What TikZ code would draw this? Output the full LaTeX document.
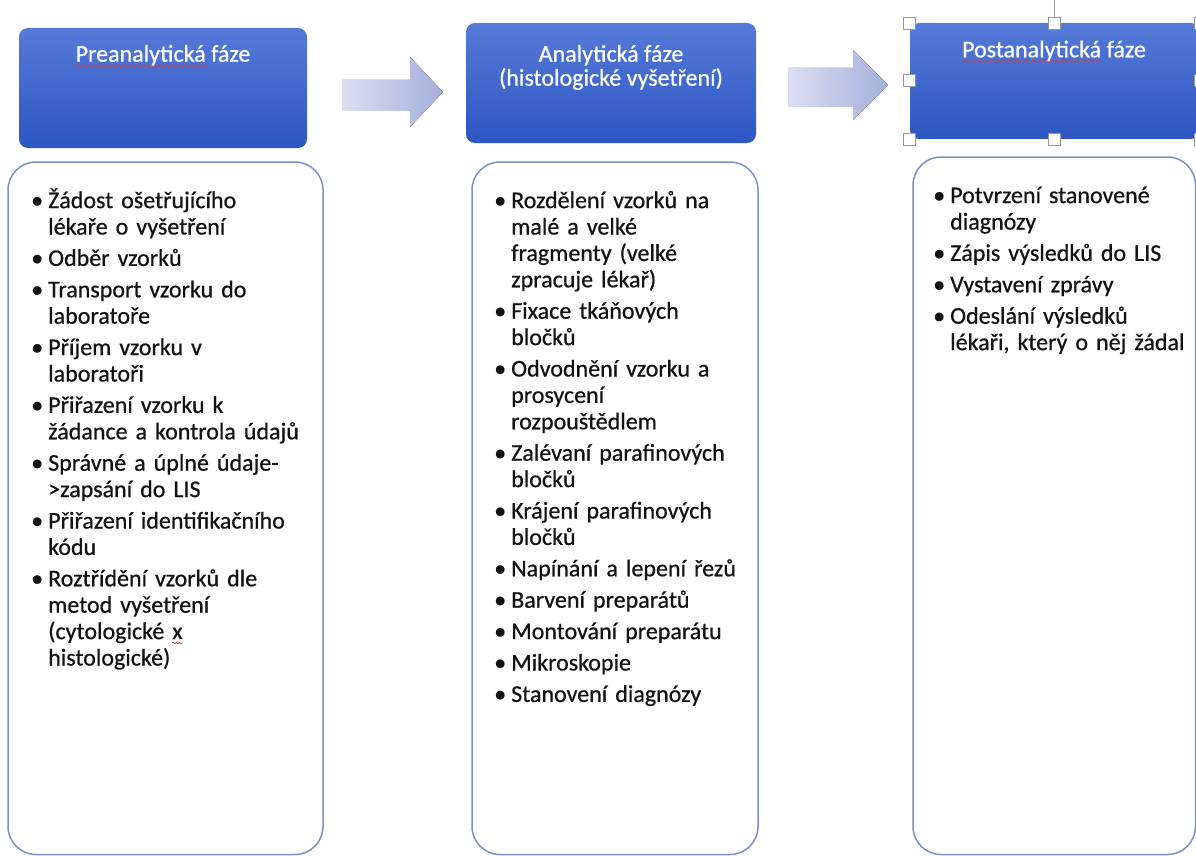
\documentclass[tikz,border=0pt]{standalone}
\usepackage{fontspec}
\setmainfont{Carlito}[FakeBold=0.6]
\usetikzlibrary{decorations.pathmorphing}

\definecolor{hdtop}{RGB}{86,122,216}
\definecolor{hdbot}{RGB}{44,86,194}
\definecolor{arrl}{RGB}{218,223,241}
\definecolor{arrr}{RGB}{164,175,220}
\definecolor{boxline}{RGB}{122,144,200}
\definecolor{txt}{RGB}{18,18,18}
\definecolor{wavered}{RGB}{214,64,64}
\definecolor{handlegray}{RGB}{150,150,150}

% one bullet point with a hanging indent; lines are broken by hand
\newcommand{\ptitem}[1]{\par\hangindent=22pt\hangafter=1\noindent
  \makebox[22pt][c]{•}\rule{0pt}{22pt}#1\par\vspace{5pt}}
% red wavy spell-check underline under a word
\newlength{\spellwd}
\newcommand{\spellwave}[1]{\settowidth{\spellwd}{#1}%
  \rlap{\tikz[overlay, baseline=0pt, x=1pt, y=1pt]
    \draw[wavered, line width=0.7pt, decorate,
      decoration={snake, amplitude=0.8pt, segment length=3pt}]
      (0pt,-4pt) -- (\spellwd,-4pt);}#1}

\begin{document}
\begin{tikzpicture}[x=1pt,y=-1pt,
  header/.style={rectangle, rounded corners=9pt, top color=hdtop,
    bottom color=hdbot, draw=none, inner sep=0pt},
  bodybox/.style={rectangle, rounded corners=28pt, draw=boxline,
    line width=1.5pt, fill=white, inner sep=0pt},
  title/.style={anchor=base, text=white, inner sep=0pt,
    font=\fontsize{24}{25}\selectfont},
  itemlist/.style={anchor=north west, inner sep=0pt, text width=300pt,
    align=left, text=txt, font=\fontsize{24}{26.4}\selectfont},
  blockarrow/.style={left color=arrl, right color=arrr, draw=none},
  handle/.style={rectangle, fill=white, draw=handlegray, line width=0.8pt,
    minimum size=12pt, inner sep=0pt}]

\useasboundingbox (0,0) rectangle (1196,856);
\fill[white] (0,0) rectangle (1196,856);
\clip (0,0) rectangle (1196,856);

% phase headers
\node[header, minimum width=288pt, minimum height=120pt] (h1) at (163,88) {};
\node[header, minimum width=290pt, minimum height=120pt] (h2) at (611,83) {};
\node[header, minimum width=290pt, minimum height=116pt] (h3) at (1055,81) {};

\node[title] (h1t) at (163,61.7) {\spellwave{Preanalytická} fáze};
\node[title] (h2ta) at (611,61.7) {Analytická fáze};
\node[title] (h2tb) at (611,85.7) {(histologické vyšetření)};
\node[title] (h3t) at (1054,57.3) {\spellwave{Postanalytická} fáze};

% block arrows between the phases
\fill[blockarrow] (342,80) -- (410,80) -- (410,57) -- (443,92)
  -- (410,127) -- (410,111) -- (342,111) -- cycle;
\fill[blockarrow] (788,68) -- (853,68) -- (853,50) -- (888,85)
  -- (853,120) -- (853,107) -- (788,107) -- cycle;

% selection frame on the third header
\coordinate (rot) at (1054,0);
\node[handle] (hnw) at (909,23) {};
\node[handle] (hn)  at (1054,23) {};
\node[handle] (hne) at (1200,23) {};
\node[handle] (hw)  at (909,80) {};
\node[handle] (he)  at (1200,80) {};
\node[handle] (hsw) at (909,139) {};
\node[handle] (hs)  at (1054,139) {};
\node[handle] (hse) at (1200,139) {};
\draw[handlegray, line width=0.8pt] (rot) -- (hn.north);

% content boxes
\node[bodybox, minimum width=315pt, minimum height=692.5pt] (b1) at (165.5,508.25) {};
\node[bodybox, minimum width=286pt, minimum height=692.5pt] (b2) at (615,508.25) {};
\node[bodybox, minimum width=282.5pt, minimum height=697.5pt] (b3) at (1054.25,505.75) {};

\node[itemlist] (l1) at (26,181.5) {\lineskiplimit=-100pt
\ptitem{Žádost ošetřujícího\newline lékaře o vyšetření}%
\ptitem{Odběr vzorků}%
\ptitem{Transport vzorku do\newline laboratoře}%
\ptitem{Příjem vzorku v\newline laboratoři}%
\ptitem{Přiřazení vzorku k\newline žádance a kontrola údajů}%
\ptitem{Správné a úplné údaje-\newline >zapsání do LIS}%
\ptitem{Přiřazení identifikačního\newline kódu}%
\ptitem{Roztřídění vzorků dle\newline metod vyšetření\newline (cytologické \spellwave{x}\newline histologické)}};

\node[itemlist] (l2) at (489,181.5) {\lineskiplimit=-100pt
\ptitem{Rozdělení vzorků na\newline malé a velké\newline fragmenty (velké\newline zpracuje lékař)}%
\ptitem{Fixace tkáňových\newline bločků}%
\ptitem{Odvodnění vzorku a\newline prosycení\newline rozpouštědlem}%
\ptitem{Zalévaní parafinových\newline bločků}%
\ptitem{Krájení parafinových\newline bločků}%
\ptitem{Napínání a lepení řezů}%
\ptitem{Barvení preparátů}%
\ptitem{Montování preparátu}%
\ptitem{Mikroskopie}%
\ptitem{Stanovení diagnózy}};

\node[itemlist] (l3) at (928,176.5) {\lineskiplimit=-100pt
\ptitem{Potvrzení stanovené\newline diagnózy}%
\ptitem{Zápis výsledků do LIS}%
\ptitem{Vystavení zprávy}%
\ptitem{Odeslání výsledků\newline lékaři, který o něj žádal}};

\end{tikzpicture}
\end{document}
